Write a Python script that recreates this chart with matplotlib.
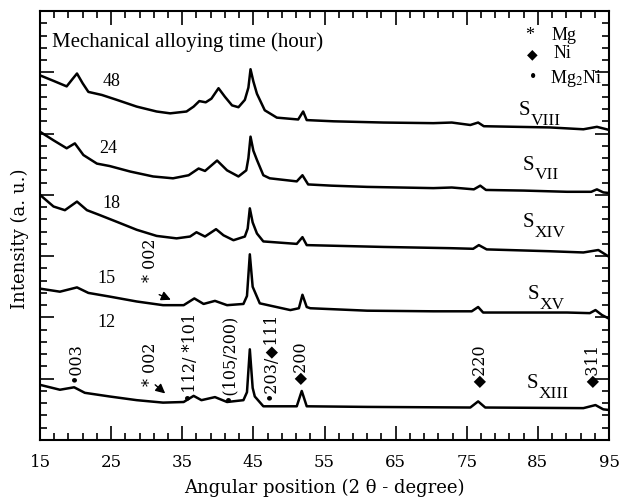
import matplotlib.pyplot as plt
import numpy as np

# XRD patterns: angle 2theta (deg), intensity (offset, a.u.)
# 48 h  (S_VIII)
x_48 = [15.0, 16.9, 18.75, 19.5, 20.2, 21.0, 21.8, 23.7, 25.8, 28.6, 31.4, 33.3, 35.6, 36.6,
        37.4, 38.3, 39.1, 40.1, 41.0, 42.0, 42.9, 43.8, 44.3, 44.6, 45.0, 45.5, 46.6, 48.3,
        51.3, 52.0, 52.5, 56.3, 63.3, 70.3, 72.9, 75.5, 76.6, 77.4, 82.0, 86.7, 91.4, 93.3, 95.0]
y_48 = [5.95, 5.86, 5.77, 5.88, 5.98, 5.82, 5.68, 5.63, 5.55, 5.44, 5.36, 5.33, 5.36, 5.44,
        5.53, 5.51, 5.57, 5.74, 5.60, 5.46, 5.43, 5.55, 5.75, 6.05, 5.85, 5.65, 5.38, 5.26,
        5.23, 5.36, 5.22, 5.20, 5.18, 5.17, 5.18, 5.14, 5.18, 5.12, 5.11, 5.10, 5.07, 5.11, 5.06]

# 24 h  (S_VII)
x_24 = [15.0, 16.9, 18.75, 19.9, 21.1, 23.0, 24.8, 27.7, 30.9, 33.7, 35.9, 37.3, 38.2, 39.9,
        41.3, 42.9, 44.0, 44.3, 44.6, 45.0, 45.5, 46.4, 47.3, 51.1, 51.9, 52.7, 56.0, 61.0,
        70.3, 72.9, 76.0, 76.9, 77.7, 83.0, 89.1, 92.5, 93.3, 94.2, 95.0]
y_24 = [5.03, 4.89, 4.76, 4.84, 4.65, 4.51, 4.47, 4.38, 4.30, 4.27, 4.32, 4.43, 4.39, 4.56,
        4.40, 4.30, 4.40, 4.60, 4.95, 4.72, 4.57, 4.32, 4.27, 4.22, 4.32, 4.17, 4.15, 4.13,
        4.11, 4.12, 4.09, 4.15, 4.08, 4.07, 4.05, 4.05, 4.09, 4.04, 4.03]

# 18 h  (S_XIV)
x_18 = [15.0, 16.9, 18.5, 20.2, 21.6, 23.4, 25.8, 28.6, 31.4, 34.2, 36.1, 37.0, 38.2, 39.75,
        40.8, 42.2, 43.8, 44.2, 44.5, 44.9, 45.5, 46.4, 51.1, 51.9, 52.5, 63.3, 72.7, 75.9,
        76.7, 77.8, 86.7, 91.4, 93.5, 95.0]
y_18 = [4.00, 3.81, 3.75, 3.89, 3.75, 3.67, 3.56, 3.43, 3.33, 3.29, 3.32, 3.39, 3.32, 3.44,
        3.34, 3.26, 3.32, 3.45, 3.78, 3.55, 3.37, 3.24, 3.20, 3.31, 3.18, 3.15, 3.13, 3.12,
        3.18, 3.11, 3.08, 3.06, 3.10, 2.99]

# 15 h  (S_XV)
x_15 = [15.0, 17.8, 20.2, 21.8, 24.8, 28.6, 32.3, 35.2, 36.7, 38.0, 39.6, 41.3, 43.6, 44.1,
        44.5, 44.9, 45.9, 50.2, 51.4, 51.9, 52.5, 53.0, 61.0, 70.3, 75.7, 76.6, 77.3, 89.1,
        92.3, 93.1, 94.0, 95.0]
y_15 = [2.47, 2.42, 2.49, 2.40, 2.34, 2.26, 2.20, 2.20, 2.31, 2.22, 2.27, 2.20, 2.22, 2.35,
        3.03, 2.50, 2.23, 2.12, 2.15, 2.37, 2.17, 2.15, 2.11, 2.10, 2.10, 2.17, 2.08, 2.08,
        2.07, 2.12, 2.04, 1.98]

# 12 h  (S_XIII)
x_12 = [15.0, 17.8, 19.8, 21.3, 24.8, 28.6, 32.3, 35.2, 36.6, 37.7, 39.6, 41.3, 43.6, 44.1,
        44.5, 44.9, 45.2, 46.4, 51.1, 51.8, 52.5, 61.0, 75.5, 76.6, 77.6, 91.4, 93.1, 94.2, 95.0]
y_12 = [0.90, 0.82, 0.86, 0.77, 0.71, 0.65, 0.61, 0.62, 0.72, 0.65, 0.70, 0.62, 0.65, 0.78,
        1.48, 0.85, 0.71, 0.55, 0.55, 0.80, 0.55, 0.54, 0.53, 0.63, 0.53, 0.52, 0.57, 0.50, 0.49]

curves = [(x_48, y_48), (x_24, y_24), (x_18, y_18), (x_15, y_15), (x_12, y_12)]

# popisky casu mleti a vzorku
time_labels = ['48', '24', '18', '15', '12']
time_pos = [(25.1, 5.85), (24.6, 4.76), (25.1, 3.86), (24.4, 2.64), (24.3, 1.91)]
sample_labels = ['VIII', 'VII', 'XIV', 'XV', 'XIII']
sample_pos = [(82.3, 5.30), (82.9, 4.41), (82.9, 3.47), (83.6, 2.30), (83.4, 0.845)]

# indexy reflexi (svisly text)
peak_labels = ['\u2022003', '* 002', '\u2022112/ *101', '\u2022(105/200)',
               '\u2022203/\u25c6111', '\u25c6200', '\u25c6220', '\u25c6311', '* 002']
peak_pos = [(19.9, 0.95), (30.5, 0.88), (36.1, 0.62), (41.5, 0.62), (47.4, 0.65),
            (51.6, 0.92), (76.8, 0.87), (92.7, 0.86), (30.6, 2.58)]

plt.rcParams['font.family'] = ['Liberation Serif', 'DejaVu Sans']
plt.rcParams['mathtext.fontset'] = 'stix'

fig = plt.figure(figsize=(6.19, 4.97), dpi=100)
ax = fig.add_axes([40 / 619, 57 / 497, 569 / 619, 429 / 497])

for xs, ys in curves:
    ax.plot(xs, ys, color='black', lw=1.8, solid_joinstyle='round')

ax.set_xlim(15, 95)
ax.set_ylim(0, 7)
ax.set_xticks(np.arange(15, 96, 10))
ax.set_xticks(np.arange(15, 96, 2), minor=True)
ax.set_yticks(np.arange(0, 7.01, 1))
ax.set_yticks(np.arange(0, 7.01, 0.2), minor=True)
ax.set_yticklabels([])
ax.tick_params(which='both', direction='in', top=True, right=True, width=1.2, color='black')
ax.tick_params(which='major', length=10, pad=10)
ax.tick_params(which='minor', length=5)
for lab in ax.get_xticklabels():
    lab.set_family('DejaVu Serif')
    lab.set_fontsize(12)
for sp in ax.spines.values():
    sp.set_linewidth(1.5)

ax.set_xlabel('Angular position (2 \u03b8 - degree)', family='DejaVu Serif', fontsize=13, labelpad=6)
ax.set_ylabel('Intensity (a. u.)', family='DejaVu Serif', fontsize=13)
ax.yaxis.set_label_coords(-0.02, 0.47)

ax.text(16.7, 6.5, 'Mechanical alloying time (hour)', fontsize=15, ha='left', va='center')

# legenda faz
ax.text(83.9, 6.60, '*', fontsize=13, ha='center', va='center')
ax.text(86.95, 6.60, 'Mg', fontsize=13, ha='left', va='center')
ax.text(84.2, 6.29, '\u25c6', fontsize=10, ha='center', va='center', family='DejaVu Sans')
ax.text(87.2, 6.31, 'Ni', fontsize=13, ha='left', va='center')
ax.text(84.4, 5.92, '\u2022', fontsize=13, ha='center', va='center')
ax.text(86.7, 5.90, r'Mg$_2$Ni', fontsize=13, ha='left', va='center')

for lab, (x, y) in zip(time_labels, time_pos):
    ax.text(x, y, lab, fontsize=13, ha='center', va='center')

# S + index pod carou
for lab, (x, y) in zip(sample_labels, sample_pos):
    ax.text(x, y, 'S', fontsize=15, ha='left', va='baseline')
    ax.annotate(lab, xy=(x, y), xytext=(8.5, -7), textcoords='offset points',
                fontsize=12.5, ha='left', va='baseline')

for lab, (x, y) in zip(peak_labels, peak_pos):
    ax.text(x, y, lab, rotation=90, fontsize=11.5, ha='center', va='bottom',
            family=['DejaVu Serif', 'DejaVu Sans'])

# sipky k reflexi Mg 002
arrow_props = dict(arrowstyle='-|>', color='black', lw=1.0, mutation_scale=14)
ax.annotate('', xy=(32.9, 0.73), xytext=(30.9, 0.93), arrowprops=arrow_props)
ax.annotate('', xy=(33.75, 2.27), xytext=(31.4, 2.39), arrowprops=arrow_props)

plt.savefig('out.png', dpi=100)
